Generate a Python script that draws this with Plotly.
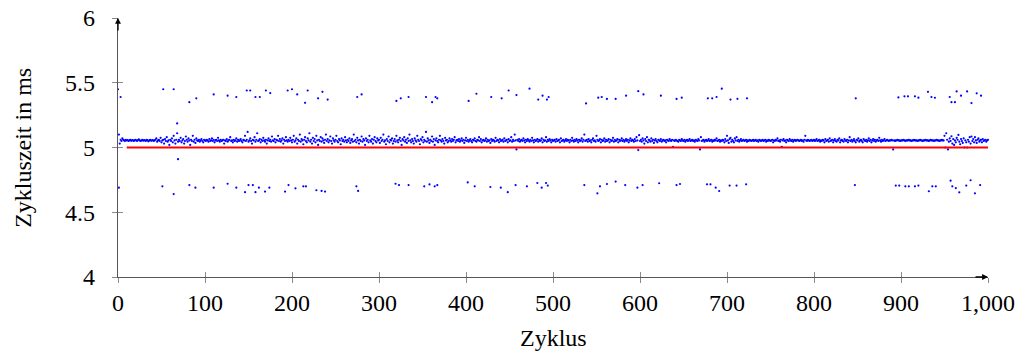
import plotly.graph_objects as go

# ---------------- data ----------------
# measured cycle time (ms) for cycles 1..1000 (main band)
zeit_band = [
5.10, 5.03, 5.06, 5.05, 5.07, 5.06, 5.055, 5.05, 5.06, 5.055, 5.058, 5.05, 5.055, 5.06, 5.052, 5.055, 5.058, 5.05, 5.055, 5.06,
5.055, 5.05, 5.058, 5.062, 5.055, 5.05, 5.055, 5.06, 5.052, 5.058, 5.055, 5.05, 5.06, 5.055, 5.048, 5.055, 5.06, 5.052, 5.055, 5.058,
5.05, 5.055, 5.06, 5.07, 5.045, 5.055, 5.06, 5.05, 5.075, 5.04, 5.055, 5.06, 5.03, 5.065, 5.05, 5.08, 5.045, 5.055, 5.02, 5.06,
5.05, 5.07, 5.04, 5.09, 5.055, 5.03, 5.06, 5.11, 5.045, 5.06, 5.05, 5.075, 5.04, 5.055, 5.065, 5.03, 5.05, 5.085, 5.06, 5.045,
5.07, 5.055, 5.02, 5.06, 5.05, 5.09, 5.045, 5.06, 5.035, 5.07, 5.055, 5.05, 5.06, 5.045, 5.055, 5.065, 5.05, 5.04, 5.06, 5.055,
5.05, 5.06, 5.055, 5.045, 5.065, 5.05, 5.055, 5.07, 5.05, 5.06, 5.04, 5.055, 5.06, 5.05, 5.075, 5.055, 5.045, 5.06, 5.05, 5.055,
5.06, 5.03, 5.055, 5.05, 5.065, 5.045, 5.055, 5.06, 5.08, 5.05, 5.055, 5.04, 5.06, 5.05, 5.055, 5.07, 5.045, 5.06, 5.05, 5.055,
5.065, 5.05, 5.04, 5.06, 5.055, 5.09, 5.05, 5.06, 5.12, 5.045, 5.055, 5.07, 5.05, 5.03, 5.06, 5.055, 5.08, 5.045, 5.06, 5.11,
5.05, 5.055, 5.065, 5.04, 5.06, 5.05, 5.075, 5.055, 5.045, 5.06, 5.03, 5.055, 5.07, 5.05, 5.06, 5.045, 5.085, 5.055, 5.05, 5.065,
5.04, 5.06, 5.055, 5.09, 5.05, 5.065, 5.045, 5.055, 5.07, 5.03, 5.06, 5.05, 5.08, 5.055, 5.045, 5.06, 5.05, 5.075, 5.055, 5.04,
5.06, 5.09, 5.045, 5.055, 5.07, 5.03, 5.06, 5.05, 5.10, 5.045, 5.065, 5.055, 5.025, 5.06, 5.08, 5.05, 5.04, 5.07, 5.055, 5.11,
5.045, 5.06, 5.03, 5.075, 5.05, 5.065, 5.04, 5.09, 5.055, 5.02, 5.06, 5.05, 5.08, 5.045, 5.07, 5.055, 5.035, 5.06, 5.10, 5.05,
5.065, 5.04, 5.055, 5.085, 5.05, 5.03, 5.07, 5.055, 5.045, 5.06, 5.09, 5.05, 5.04, 5.065, 5.055, 5.025, 5.07, 5.05, 5.06, 5.045,
5.08, 5.055, 5.04, 5.06, 5.05, 5.07, 5.035, 5.055, 5.065, 5.045, 5.10, 5.05, 5.06, 5.04, 5.075, 5.055, 5.03, 5.06, 5.05, 5.085,
5.045, 5.065, 5.055, 5.02, 5.07, 5.05, 5.06, 5.04, 5.09, 5.055, 5.045, 5.065, 5.03, 5.06, 5.08, 5.05, 5.04, 5.07, 5.055, 5.06,
5.035, 5.075, 5.05, 5.06, 5.10, 5.045, 5.055, 5.025, 5.065, 5.05, 5.085, 5.04, 5.06, 5.055, 5.07, 5.03, 5.05, 5.065, 5.045, 5.09,
5.055, 5.04, 5.06, 5.075, 5.05, 5.02, 5.065, 5.055, 5.08, 5.045, 5.06, 5.035, 5.07, 5.05, 5.10, 5.055, 5.04, 5.065, 5.05, 5.03,
5.07, 5.055, 5.045, 5.09, 5.06, 5.05, 5.025, 5.065, 5.055, 5.08, 5.04, 5.06, 5.05, 5.12, 5.045, 5.07, 5.055, 5.035, 5.06, 5.05,
5.085, 5.045, 5.065, 5.02, 5.055, 5.07, 5.05, 5.04, 5.06, 5.09, 5.055, 5.045, 5.065, 5.05, 5.03, 5.075, 5.055, 5.06, 5.04, 5.05,
5.07, 5.055, 5.045, 5.065, 5.05, 5.06, 5.08, 5.04, 5.055, 5.06, 5.05, 5.065, 5.045, 5.055, 5.07, 5.05, 5.06, 5.035, 5.055, 5.075,
5.05, 5.06, 5.045, 5.055, 5.065, 5.05, 5.04, 5.06, 5.055, 5.07, 5.05, 5.045, 5.06, 5.055, 5.08, 5.05, 5.065, 5.04, 5.055, 5.06,
5.05, 5.055, 5.07, 5.045, 5.06, 5.05, 5.055, 5.035, 5.065, 5.05, 5.06, 5.055, 5.045, 5.075, 5.05, 5.06, 5.055, 5.04, 5.065, 5.05,
5.055, 5.06, 5.045, 5.07, 5.05, 5.055, 5.06, 5.04, 5.065, 5.05, 5.055, 5.08, 5.045, 5.06, 5.05, 5.10, 5.055, 4.985, 5.06, 5.05,
5.065, 5.045, 5.055, 5.06, 5.05, 5.07, 5.055, 5.04, 5.06, 5.05, 5.065, 5.055, 5.045, 5.06, 5.05, 5.075, 5.055, 5.04, 5.06, 5.05,
5.055, 5.065, 5.045, 5.06, 5.05, 5.055, 5.07, 5.04, 5.06, 5.05, 5.055, 5.08, 5.045, 5.06, 5.05, 5.065, 5.055, 5.04, 5.06, 5.05,
5.055, 5.06, 5.045, 5.065, 5.05, 5.055, 5.06, 5.04, 5.07, 5.05, 5.055, 5.06, 5.045, 5.055, 5.065, 5.05, 5.06, 5.055, 5.04, 5.06,
5.05, 5.075, 5.055, 5.045, 5.06, 5.05, 5.065, 5.055, 5.04, 5.06, 5.05, 5.055, 5.07, 5.045, 5.06, 5.10, 5.05, 5.055, 5.06, 5.045,
5.065, 5.05, 5.055, 5.04, 5.06, 5.07, 5.05, 5.055, 5.045, 5.09, 5.06, 5.05, 5.055, 5.065, 5.04, 5.06, 5.05, 5.055, 5.07, 5.045,
5.06, 5.05, 5.055, 5.065, 5.04, 5.06, 5.05, 5.055, 5.075, 5.045, 5.06, 5.05, 5.055, 5.065, 5.04, 5.06, 5.05, 5.055, 5.07, 5.05,
5.06, 5.045, 5.055, 5.065, 5.05, 5.06, 5.04, 5.055, 5.07, 5.05, 5.06, 5.055, 5.045, 5.065, 5.05, 5.08, 5.055, 4.98, 5.095, 5.05,
5.06, 5.045, 5.07, 5.055, 5.03, 5.065, 5.05, 5.08, 5.04, 5.06, 5.055, 5.045, 5.07, 5.05, 5.06, 5.035, 5.055, 5.065, 5.05, 5.04,
5.06, 5.055, 5.05, 5.065, 5.045, 5.055, 5.06, 5.05, 5.055, 5.04, 5.06, 5.055, 5.05, 5.065, 5.055, 5.05, 5.06, 5.005, 5.055, 5.05,
5.06, 5.055, 5.05, 5.045, 5.06, 5.055, 5.05, 5.065, 5.055, 5.05, 5.06, 5.045, 5.055, 5.06, 5.05, 5.055, 5.065, 5.05, 5.055, 5.06,
5.05, 5.055, 5.045, 5.06, 5.055, 5.05, 5.065, 5.055, 4.985, 5.08, 5.05, 5.055, 5.06, 5.045, 5.055, 5.06, 5.05, 5.055, 5.065, 5.05,
5.055, 5.06, 5.045, 5.055, 5.05, 5.06, 5.055, 5.07, 5.05, 5.055, 5.06, 5.045, 5.055, 5.05, 5.06, 5.055, 5.04, 5.065, 5.05, 5.09,
5.055, 5.035, 5.065, 5.075, 5.045, 5.06, 5.05, 5.04, 5.07, 5.055, 5.08, 5.05, 5.06, 5.045, 5.055, 5.065, 5.05, 5.055, 5.06, 5.05,
5.055, 5.06, 5.045, 5.055, 5.05, 5.06, 5.055, 5.05, 5.055, 5.06, 5.05, 5.055, 5.06, 5.05, 5.055, 5.045, 5.06, 5.055, 5.05, 5.055,
5.06, 5.05, 5.055, 5.06, 5.045, 5.055, 5.05, 5.06, 5.055, 5.05, 5.055, 5.06, 5.04, 5.055, 5.05, 5.06, 5.055, 5.07, 5.05, 5.055,
5.045, 5.06, 5.005, 5.055, 5.065, 5.05, 5.055, 5.04, 5.06, 5.055, 5.05, 5.065, 5.055, 5.05, 5.06, 5.045, 5.055, 5.06, 5.05, 5.055,
5.06, 5.055, 5.05, 5.055, 5.06, 5.05, 5.055, 5.045, 5.06, 5.09, 5.055, 5.05, 5.06, 5.055, 5.05, 5.055, 5.06, 5.05, 5.055, 5.06,
5.05, 5.055, 5.065, 5.05, 5.055, 5.06, 5.045, 5.055, 5.05, 5.06, 5.055, 5.04, 5.065, 5.05, 5.055, 5.06, 5.045, 5.07, 5.05, 5.055,
5.06, 5.04, 5.055, 5.065, 5.05, 5.045, 5.06, 5.055, 5.07, 5.04, 5.055, 5.06, 5.05, 5.045, 5.065, 5.055, 5.05, 5.06, 5.04, 5.055,
5.08, 5.05, 5.06, 5.045, 5.055, 5.065, 5.05, 5.04, 5.06, 5.055, 5.07, 5.045, 5.055, 5.06, 5.05, 5.04, 5.065, 5.055, 5.05, 5.06,
5.045, 5.055, 5.07, 5.05, 5.06, 5.04, 5.055, 5.065, 5.05, 5.06, 5.045, 5.055, 5.06, 5.05, 5.075, 5.055, 5.045, 5.06, 5.05, 5.055,
5.065, 5.05, 5.055, 5.06, 5.055, 5.05, 5.055, 5.055, 5.06, 5.055, 4.985, 5.055, 5.05, 5.055, 5.055, 5.06, 5.055, 5.055, 5.05, 5.055,
5.055, 5.055, 5.06, 5.055, 5.05, 5.055, 5.055, 5.055, 5.06, 5.055, 5.055, 5.05, 5.055, 5.055, 5.06, 5.055, 5.055, 5.055, 5.05, 5.055,
5.055, 5.06, 5.055, 5.055, 5.05, 5.055, 5.055, 5.06, 5.055, 5.055, 5.055, 5.05, 5.055, 5.06, 5.055, 5.055, 5.055, 5.05, 5.055, 5.055,
5.06, 5.055, 5.055, 5.05, 5.055, 5.055, 5.06, 5.055, 5.055, 5.09, 5.00, 5.11, 5.06, 4.985, 5.045, 5.07, 5.05, 5.087, 5.03, 5.065,
5.02, 5.055, 5.04, 5.075, 5.06, 5.097, 5.045, 5.025, 5.065, 5.05, 5.035, 5.07, 5.00, 5.055, 5.04, 5.00, 5.06, 5.045, 5.08, 5.03,
5.085, 5.05, 5.065, 5.04, 5.08, 5.055, 5.035, 5.06, 5.07, 5.045, 5.055, 5.06, 5.04, 5.065, 5.05, 5.055, 5.06, 5.045, 5.055, 5.06,
]
zyklus_band = list(range(1, len(zeit_band) + 1))

# slow cycles (~5.4 ms)
zyklus_hoch = [0, 3, 52, 64, 82, 90, 110, 126, 136, 148, 152, 158, 163, 170, 175, 195, 200, 206, 215, 218,
               230, 235, 241, 275, 280, 320, 325, 334, 354, 361, 365, 367, 403, 412, 429, 441, 449, 458, 473, 483,
               488, 493, 495, 538, 552, 556, 562, 572, 584, 598, 604, 624, 642, 648, 678, 683, 688, 694, 704, 712,
               723, 848, 897, 904, 908, 916, 920, 931, 935, 939, 956, 958, 962, 964, 969, 976, 981, 987, 992]
zeit_hoch = [5.45, 5.39, 5.45, 5.45, 5.35, 5.38, 5.41, 5.40, 5.39, 5.44, 5.44, 5.39, 5.39, 5.44, 5.42, 5.44, 5.45, 5.41, 5.345, 5.44,
             5.38, 5.43, 5.37, 5.39, 5.41, 5.36, 5.38, 5.39, 5.39, 5.35, 5.39, 5.38, 5.36, 5.415, 5.39, 5.38, 5.44, 5.405, 5.454, 5.37,
             5.40, 5.37, 5.39, 5.34, 5.385, 5.39, 5.375, 5.375, 5.40, 5.435, 5.41, 5.40, 5.375, 5.385, 5.38, 5.38, 5.39, 5.454, 5.37, 5.376,
             5.38, 5.38, 5.387, 5.395, 5.395, 5.395, 5.385, 5.43, 5.39, 5.384, 5.39, 5.35, 5.35, 5.433, 5.40, 5.433, 5.343, 5.418, 5.40]

# fast cycles (~4.7 ms)
zyklus_tief = [1, 51, 64, 82, 89, 110, 126, 136, 146, 150, 155, 158, 162, 169, 174, 192, 196, 204, 213, 216,
               228, 234, 238, 274, 276, 319, 323, 334, 352, 358, 364, 367, 402, 410, 428, 440, 448, 457, 470, 482,
               487, 492, 494, 536, 551, 554, 562, 572, 583, 597, 603, 622, 642, 646, 677, 681, 687, 691, 703, 711,
               722, 847, 894, 898, 905, 909, 916, 920, 932, 936, 940, 957, 959, 963, 967, 975, 980, 985, 991]
zeit_tief = [4.69, 4.70, 4.64, 4.71, 4.69, 4.69, 4.72, 4.69, 4.655, 4.71, 4.71, 4.655, 4.69, 4.66, 4.69, 4.66, 4.71, 4.685, 4.70, 4.70,
             4.67, 4.665, 4.66, 4.70, 4.665, 4.72, 4.71, 4.71, 4.70, 4.715, 4.70, 4.71, 4.73, 4.70, 4.695, 4.69, 4.655, 4.71, 4.70, 4.726,
             4.69, 4.726, 4.706, 4.71, 4.646, 4.70, 4.718, 4.737, 4.71, 4.69, 4.71, 4.724, 4.71, 4.718, 4.716, 4.716, 4.69, 4.664, 4.706, 4.706,
             4.716, 4.71, 4.706, 4.706, 4.70, 4.70, 4.70, 4.706, 4.662, 4.70, 4.70, 4.744, 4.70, 4.687, 4.654, 4.706, 4.747, 4.646, 4.71]

# isolated points
zyklus_mitte = [68, 69]
zeit_mitte = [5.186, 4.91]

# target cycle time
soll_zyklus = [10, 1000]
soll_zeit = [5.0, 5.0]

x_ticks = [0, 100, 200, 300, 400, 500, 600, 700, 800, 900, 1000]
x_ticktext = ["0", "100", "200", "300", "400", "500", "600", "700", "800", "900", "1,000"]
y_ticks = [4, 4.5, 5, 5.5, 6]
y_ticktext = ["4", "4.5", "5", "5.5", "6"]
x_range = [0, 1000]
y_range = [4, 6]

# ---------------- figure ----------------
FONT = "Liberation Serif"
AX_COL = "#555555"
TICK_COL = "#8a8a8a"

fig = go.Figure()

fig.add_trace(go.Scatter(
    x=zyklus_band + zyklus_hoch + zyklus_tief + zyklus_mitte,
    y=zeit_band + zeit_hoch + zeit_tief + zeit_mitte,
    mode="markers",
    marker=dict(size=2.2, color="#0000ff", line=dict(width=0)),
    cliponaxis=False,
    showlegend=False,
    hoverinfo="skip",
))

fig.add_trace(go.Scatter(
    x=soll_zyklus, y=soll_zeit, mode="lines",
    line=dict(color="#ff0000", width=2),
    xaxis="x2", yaxis="y2",
    showlegend=False, hoverinfo="skip",
))

common_x = dict(range=x_range, tickvals=x_ticks, showgrid=False, zeroline=False,
                fixedrange=True, automargin=False)
common_y = dict(range=y_range, tickvals=y_ticks, showgrid=False, zeroline=False,
                fixedrange=True, automargin=False)

fig.update_layout(
    width=1025, height=354,
    margin=dict(l=118, r=37, t=18, b=77),
    paper_bgcolor="white", plot_bgcolor="white",
    font=dict(family=FONT, size=24, color="black"),
    xaxis=dict(**common_x, ticktext=x_ticktext, ticks="outside", ticklen=5, tickwidth=1,
               tickcolor=TICK_COL, showline=True, linecolor=AX_COL, linewidth=1.3,
               tickfont=dict(family=FONT, size=24, color="black"), ticklabelstandoff=-1),
    yaxis=dict(**common_y, ticktext=y_ticktext, ticks="outside", ticklen=5, tickwidth=1,
               tickcolor=TICK_COL, showline=True, linecolor=AX_COL, linewidth=1.3,
               tickfont=dict(family=FONT, size=24, color="black"), ticklabelstandoff=12),
    xaxis2=dict(**common_x, overlaying="x", side="bottom", ticks="inside", ticklen=5, tickwidth=1,
                tickcolor=TICK_COL, showticklabels=False, showline=False),
    yaxis2=dict(**common_y, overlaying="y", side="left", ticks="inside", ticklen=5, tickwidth=1,
                tickcolor=TICK_COL, showticklabels=False, showline=False),
    annotations=[
        dict(x=x_range[1], y=y_range[0], xref="x", yref="y", text="", showarrow=True,
             ax=-14, ay=0, arrowhead=2, arrowsize=0.9, arrowwidth=1.3, arrowcolor="black", standoff=0),
        dict(x=x_range[0], y=y_range[1], xref="x", yref="y", text="", showarrow=True,
             ax=0, ay=14, arrowhead=2, arrowsize=0.9, arrowwidth=1.3, arrowcolor="black", standoff=0),
        dict(x=0.5, y=-0.235, xref="paper", yref="paper", text="Zyklus", showarrow=False,
             xanchor="center", yanchor="middle", font=dict(family=FONT, size=24, color="black")),
        dict(x=-0.11, y=0.5, xref="paper", yref="paper", text="Zykluszeit in ms", showarrow=False,
             textangle=-90, xanchor="center", yanchor="middle",
             font=dict(family=FONT, size=24, color="black")),
    ],
)

fig.write_html("out.html", config={"displayModeBar": False, "staticPlot": True},
               post_script="document.body.style.margin='0px';")
